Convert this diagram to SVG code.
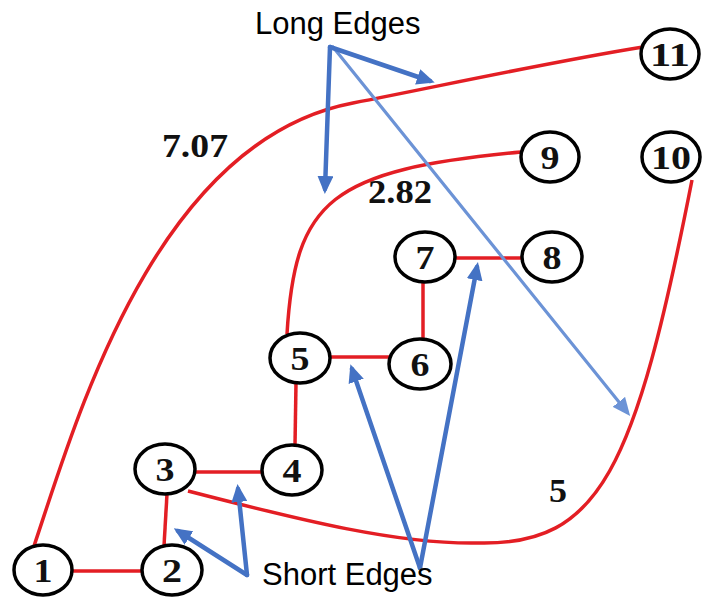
<svg xmlns="http://www.w3.org/2000/svg" width="706" height="603" viewBox="0 0 706 603">
<style>
.node ellipse{fill:#fff;stroke:#000;stroke-width:3.5}
.node text{font-family:"Liberation Serif","Times New Roman",serif;font-weight:bold;font-size:34px;fill:#111;text-anchor:middle}
.edge{fill:none;stroke:#e31e24;stroke-width:3.5}
.wt{font-family:"Liberation Serif","Times New Roman",serif;font-weight:bold;font-size:34px;fill:#111}
.ann{font-family:"Liberation Sans",Arial,sans-serif;font-size:31px;fill:#000}
.arr{fill:none;stroke:#4472c4;stroke-width:4.5;stroke-linecap:round}
.arr2{fill:none;stroke:#6c93d6;stroke-width:3.2;stroke-linecap:round}
</style>
<defs>
<marker id="ah" markerUnits="userSpaceOnUse" markerWidth="18" markerHeight="16" viewBox="0 0 18 16" refX="13" refY="8" orient="auto"><path d="M0,0 L18,8 L0,16 z" fill="#4472c4"/></marker>
<marker id="ah2" markerUnits="userSpaceOnUse" markerWidth="18" markerHeight="16" viewBox="0 0 18 16" refX="13" refY="8" orient="auto"><path d="M0,0 L18,8 L0,16 z" fill="#6c93d6"/></marker>
</defs>
<rect width="706" height="603" fill="#fff"/>
<g id="connectors">
<path class="edge" d="M72 571 L143 571"/>
<path class="edge" d="M164 546 L167 494"/>
<path class="edge" d="M194 472 L263 472"/>
<path class="edge" d="M295 445 L296 383"/>
<path class="edge" d="M329 357 L391 357"/>
<path class="edge" d="M423 340 L423 282"/>
<path class="edge" d="M454 258 L523 258"/>
<path class="edge" d="M34 546 C74 428, 153 141, 353 103 C450 84, 550 62, 643 47"/>
<path class="edge" d="M287 334 C295 200, 330 170, 521 152"/>
<path class="edge" d="M188 491 C300 520, 400 545, 480 543 C600 545, 635 470, 692 180"/>
</g>
<g id="annotations">
<line class="arr2" x1="333" y1="47" x2="627" y2="412" marker-end="url(#ah2)"/>
<line class="arr" x1="330" y1="47" x2="325" y2="189" marker-end="url(#ah)"/>
<line class="arr" x1="330" y1="47" x2="430" y2="81" marker-end="url(#ah)"/>
<line class="arr" x1="247" y1="575" x2="178" y2="531" marker-end="url(#ah)"/>
<line class="arr" x1="247" y1="575" x2="238" y2="489" marker-end="url(#ah)"/>
<line class="arr" x1="420" y1="568" x2="352" y2="369" marker-end="url(#ah)"/>
<line class="arr" x1="420" y1="568" x2="477" y2="267" marker-end="url(#ah)"/>
<text class="ann" x="255" y="34">Long Edges</text>
<text class="ann" x="262" y="585" font-size="30.5">Short Edges</text>
<text class="wt" x="162" y="157" textLength="66" lengthAdjust="spacingAndGlyphs">7.07</text>
<text class="wt" x="368" y="203" textLength="64" lengthAdjust="spacingAndGlyphs">2.82</text>
<text class="wt" x="549" y="502" textLength="18" lengthAdjust="spacingAndGlyphs">5</text>
</g>
<g id="n1" class="node"><ellipse cx="43" cy="570" rx="29" ry="25"/><text x="43" y="582" textLength="19" lengthAdjust="spacingAndGlyphs">1</text></g>
<g id="n2" class="node"><ellipse cx="172" cy="570" rx="30" ry="25"/><text x="172" y="582" textLength="20" lengthAdjust="spacingAndGlyphs">2</text></g>
<g id="n3" class="node"><ellipse cx="165" cy="469" rx="30" ry="25"/><text x="165" y="481" textLength="19" lengthAdjust="spacingAndGlyphs">3</text></g>
<g id="n4" class="node"><ellipse cx="292" cy="470" rx="30" ry="25"/><text x="292" y="482" textLength="19" lengthAdjust="spacingAndGlyphs">4</text></g>
<g id="n5" class="node"><ellipse cx="300" cy="358" rx="30" ry="25"/><text x="300" y="370" textLength="19" lengthAdjust="spacingAndGlyphs">5</text></g>
<g id="n6" class="node"><ellipse cx="420" cy="364" rx="31" ry="25"/><text x="420" y="376" textLength="19" lengthAdjust="spacingAndGlyphs">6</text></g>
<g id="n7" class="node"><ellipse cx="425" cy="257" rx="30" ry="25"/><text x="425" y="269" textLength="19" lengthAdjust="spacingAndGlyphs">7</text></g>
<g id="n8" class="node"><ellipse cx="552" cy="257" rx="30" ry="25"/><text x="552" y="269" textLength="19" lengthAdjust="spacingAndGlyphs">8</text></g>
<g id="n9" class="node"><ellipse cx="550" cy="157" rx="29" ry="25"/><text x="550" y="169" textLength="19" lengthAdjust="spacingAndGlyphs">9</text></g>
<g id="n10" class="node"><ellipse cx="671" cy="157" rx="29" ry="25"/><text x="671" y="169" textLength="40" lengthAdjust="spacingAndGlyphs">10</text></g>
<g id="n11" class="node"><ellipse cx="670" cy="54" rx="29" ry="25"/><text x="670" y="66" textLength="40" lengthAdjust="spacingAndGlyphs">11</text></g>
</svg>
